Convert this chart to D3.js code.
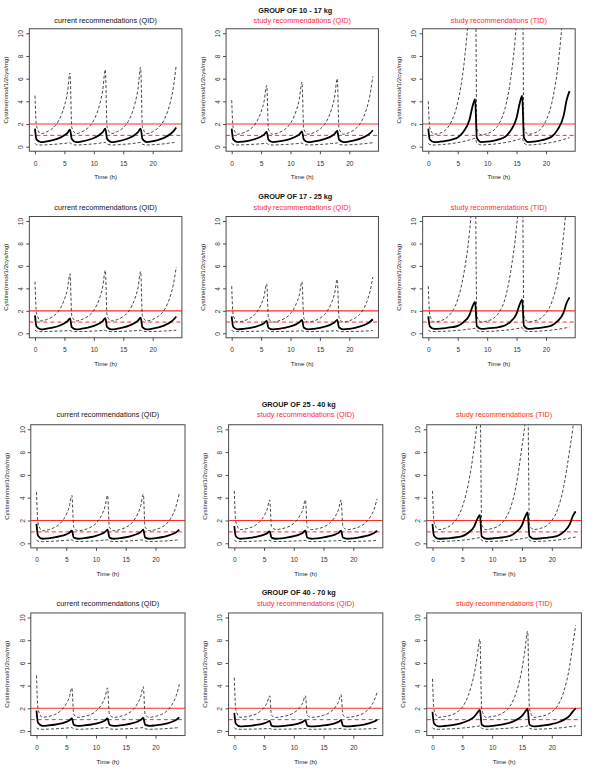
<!DOCTYPE html>
<html><head><meta charset="utf-8">
<script src="https://cdn.jsdelivr.net/npm/d3@7"></script>
<style>
html,body{margin:0;padding:0;background:#fff;}
svg{display:block;font-family:'Liberation Sans',Arial,sans-serif;}
</style></head>
<body>
<svg id="chart" width="600" height="778"></svg>
<script>
// ---------------- DATA ----------------
const groups = ["GROUP OF 10 - 17 kg", "GROUP OF 17 - 25 kg", "GROUP OF 25 - 40 kg", "GROUP OF 40 - 70 kg"];
const regimens = ["current recommendations (QID)", "study recommendations (QID)", "study recommendations (TID)"];
const regimenColors = ["#111", "#ff2a2a", "#ff2a2a"];
const xTicks = [0, 5, 10, 15, 20];
const yTicks = [0, 2, 4, 6, 8, 10];
const xLabel = "Time (h)";
const yLabel = "Cystine(nmol/1/2cys/mg)";
const thresholdSolid = 2;
const thresholdDashed = 1;

const timeQID = [0,0.25,1,2,3,4,5,5.5,5.95, 6.25,7,8,9,10,11,11.5,11.95, 12.25,13,14,15,16,17,17.5,17.95, 18.25,19,20,21,22,23,23.5,24];
const timeTID = [0,0.25,1,2,3,4,5,6,7,7.5,7.95, 8.25,9,10,11,12,13,14,15,15.5,15.95, 16.25,17,18,19,20,21,22,23,23.5,24];

// group 10-17 kg
const med_r1c1 = [1.6,0.64,0.40,0.47,0.58,0.74,1.01,1.20,1.5, 0.68,0.40,0.47,0.59,0.77,1.06,1.28,1.6, 0.70,0.40,0.47,0.59,0.77,1.06,1.28,1.6, 0.70,0.40,0.48,0.61,0.80,1.12,1.35,1.7];
const up_r1c1  = [4.5,1.82,1.15,1.31,1.63,2.27,3.61,4.73,6.5, 1.69,1.15,1.32,1.66,2.34,3.75,4.94,6.8, 1.72,1.15,1.33,1.68,2.38,3.84,5.07,7.0, 1.74,1.15,1.33,1.69,2.42,3.93,5.20,7.2];
const lo_r1c1  = [0.3,0.18,0.15,0.17,0.2,0.24,0.29,0.32,0.35, 0.21,0.15,0.17,0.21,0.25,0.31,0.35,0.38, 0.22,0.15,0.17,0.21,0.25,0.31,0.35,0.38, 0.22,0.15,0.18,0.21,0.26,0.33,0.36,0.4];

const med_r1c2 = [1.6,0.64,0.40,0.45,0.54,0.68,0.90,1.06,1.3, 0.63,0.40,0.46,0.55,0.69,0.92,1.09,1.35, 0.64,0.40,0.46,0.56,0.71,0.95,1.13,1.4, 0.65,0.40,0.46,0.57,0.73,0.98,1.17,1.45];
const up_r1c2  = [4.1,1.7,1.1,1.23,1.49,2.0,3.08,3.98,5.4, 1.53,1.1,1.24,1.51,2.07,3.22,4.18,5.7, 1.56,1.1,1.25,1.54,2.13,3.35,4.38,6.0, 1.59,1.1,1.25,1.56,2.17,3.45,4.52,6.2];
const lo_r1c2  = [0.3,0.18,0.15,0.17,0.19,0.22,0.26,0.28,0.30, 0.2,0.15,0.17,0.19,0.23,0.27,0.29,0.32, 0.2,0.15,0.17,0.2,0.23,0.28,0.3,0.33, 0.2,0.15,0.17,0.2,0.24,0.29,0.32,0.35];

const med_r1c3 = [1.6,0.64,0.4,0.44,0.51,0.63,0.82,1.35,2.38,3.52,4.2, 0.78,0.4,0.44,0.52,0.65,0.85,1.43,2.53,3.76,4.5, 0.81,0.4,0.45,0.54,0.67,0.9,1.53,2.74,4.09,4.9];
const up_r1c3  = [4.0,1.68,1.1,1.2,1.5,2.3,3.9,7.0,12.5,16,20, 1.6,1.05,1.15,1.4,2.0,3.3,6.0,11,15,19, 1.6,1.1,1.2,1.5,2.3,3.9,7.0,12.5,16,20];
const lo_r1c3  = [0.3,0.18,0.15,0.18,0.22,0.28,0.36,0.46,0.6,0.67,0.75, 0.33,0.15,0.18,0.22,0.28,0.36,0.46,0.6,0.67,0.75, 0.33,0.15,0.18,0.23,0.29,0.38,0.49,0.64,0.72,0.8];

// group 17-25 kg
const med_r2c1 = [1.6,0.6,0.35,0.41,0.51,0.65,0.89,1.07,1.33, 0.55,0.35,0.41,0.51,0.66,0.9,1.08,1.35, 0.55,0.35,0.41,0.52,0.68,0.93,1.12,1.4, 0.56,0.35,0.42,0.53,0.71,0.98,1.19,1.5];
const up_r2c1  = [4.6,1.8,1.1,1.23,1.48,1.98,3.03,3.91,5.3, 1.52,1.1,1.24,1.51,2.05,3.17,4.12,5.6, 1.55,1.1,1.23,1.5,2.02,3.12,4.05,5.5, 1.54,1.1,1.24,1.53,2.11,3.31,4.32,5.9];
const lo_r2c1  = [0.3,0.18,0.15,0.16,0.18,0.2,0.22,0.24,0.25, 0.18,0.15,0.16,0.18,0.2,0.23,0.25,0.27, 0.19,0.15,0.16,0.18,0.2,0.23,0.25,0.27, 0.19,0.15,0.16,0.18,0.21,0.24,0.26,0.28];

const med_r2c2 = [1.5,0.58,0.35,0.4,0.47,0.58,0.76,0.9,1.1, 0.5,0.35,0.4,0.49,0.61,0.82,0.97,1.2, 0.52,0.35,0.4,0.49,0.61,0.82,0.97,1.2, 0.52,0.35,0.4,0.49,0.63,0.85,1.01,1.25];
const up_r2c2  = [4.2,1.64,1.0,1.1,1.31,1.71,2.56,3.28,4.4, 1.34,1.0,1.11,1.32,1.76,2.66,3.41,4.6, 1.36,1.0,1.11,1.34,1.8,2.75,3.55,4.8, 1.38,1.0,1.12,1.36,1.84,2.84,3.68,5.0];
const lo_r2c2  = [0.3,0.18,0.15,0.16,0.17,0.18,0.2,0.21,0.22, 0.17,0.15,0.16,0.17,0.18,0.2,0.21,0.22, 0.17,0.15,0.16,0.17,0.19,0.21,0.22,0.23, 0.17,0.15,0.16,0.17,0.19,0.21,0.23,0.24];

const med_r2c3 = [1.5,0.62,0.4,0.42,0.47,0.54,0.66,1.0,1.65,2.37,2.8, 0.64,0.4,0.43,0.48,0.56,0.69,1.05,1.75,2.53,3.0, 0.66,0.4,0.43,0.48,0.57,0.71,1.1,1.86,2.7,3.2];
const up_r2c3  = [4.2,1.64,1.0,1.1,1.35,1.9,3.0,5.2,9.0,12,15, 1.5,1.0,1.1,1.3,1.85,3.0,5.5,9.5,12.5,15.5, 1.5,1.0,1.1,1.3,1.8,2.8,4.8,8.8,11.5,14];
const lo_r2c3  = [0.3,0.18,0.15,0.17,0.19,0.22,0.26,0.31,0.38,0.41,0.45, 0.24,0.15,0.17,0.19,0.23,0.27,0.33,0.41,0.45,0.5, 0.26,0.15,0.17,0.2,0.24,0.29,0.36,0.45,0.5,0.55];

// group 25-40 kg
const med_r3c1 = [1.7,0.66,0.4,0.44,0.51,0.62,0.79,0.91,1.1, 0.51,0.4,0.45,0.53,0.65,0.84,0.98,1.2, 0.52,0.4,0.45,0.53,0.65,0.84,0.98,1.2, 0.52,0.4,0.45,0.53,0.65,0.84,0.98,1.2];
const up_r3c1  = [4.5,1.78,1.1,1.19,1.38,1.75,2.53,3.18,4.2, 1.41,1.1,1.19,1.38,1.75,2.53,3.18,4.2, 1.41,1.1,1.2,1.39,1.77,2.57,3.24,4.3, 1.42,1.1,1.2,1.4,1.79,2.62,3.31,4.4];
const lo_r3c1  = [0.3,0.18,0.15,0.17,0.19,0.22,0.26,0.28,0.3, 0.2,0.15,0.17,0.19,0.22,0.26,0.28,0.3, 0.2,0.15,0.17,0.19,0.22,0.26,0.28,0.3, 0.2,0.15,0.17,0.19,0.22,0.26,0.28,0.3];

const med_r3c2 = [1.5,0.62,0.4,0.44,0.5,0.6,0.76,0.87,1.05, 0.5,0.4,0.44,0.51,0.62,0.79,0.91,1.1, 0.51,0.4,0.44,0.51,0.62,0.79,0.91,1.1, 0.51,0.4,0.44,0.51,0.62,0.79,0.91,1.1];
const up_r3c2  = [4.6,1.88,1.2,1.28,1.43,1.75,2.4,2.94,3.8, 1.46,1.2,1.28,1.43,1.75,2.4,2.94,3.8, 1.46,1.2,1.28,1.43,1.75,2.4,2.94,3.8, 1.46,1.2,1.28,1.44,1.77,2.44,3.01,3.9];
const lo_r3c2  = [0.3,0.18,0.15,0.16,0.18,0.2,0.22,0.24,0.25, 0.18,0.15,0.16,0.18,0.2,0.22,0.24,0.25, 0.18,0.15,0.16,0.18,0.2,0.22,0.24,0.25, 0.18,0.15,0.16,0.18,0.2,0.22,0.24,0.25];

const med_r3c3 = [1.7,0.66,0.4,0.42,0.46,0.53,0.63,0.93,1.49,2.12,2.5, 0.61,0.4,0.42,0.47,0.54,0.65,0.98,1.6,2.29,2.7, 0.63,0.4,0.42,0.47,0.54,0.66,1.0,1.65,2.37,2.8];
const up_r3c3  = [4.6,1.88,1.2,1.3,1.55,2.1,3.2,5.2,8.5,10.8,13.5, 1.6,1.2,1.3,1.5,2.0,3.0,5.0,8.5,10.5,13.5, 1.6,1.2,1.3,1.5,2.0,3.0,5.0,8.2,10.0,12.5];
const lo_r3c3  = [0.3,0.18,0.15,0.17,0.19,0.23,0.27,0.33,0.41,0.45,0.5, 0.26,0.15,0.17,0.19,0.23,0.27,0.33,0.41,0.45,0.5, 0.26,0.15,0.17,0.2,0.24,0.29,0.36,0.45,0.5,0.55];

// group 40-70 kg
const med_r4c1 = [1.8,0.72,0.45,0.49,0.55,0.65,0.81,0.92,1.1, 0.55,0.45,0.49,0.55,0.65,0.81,0.92,1.1, 0.55,0.45,0.49,0.56,0.67,0.84,0.96,1.15, 0.56,0.45,0.5,0.57,0.68,0.86,1.0,1.2];
const up_r4c1  = [4.9,1.94,1.2,1.28,1.43,1.75,2.4,2.94,3.8, 1.46,1.2,1.28,1.43,1.75,2.4,2.94,3.8, 1.46,1.2,1.28,1.44,1.77,2.44,3.01,3.9, 1.47,1.2,1.29,1.46,1.81,2.53,3.14,4.1];
const lo_r4c1  = [0.3,0.18,0.15,0.17,0.19,0.22,0.26,0.28,0.3, 0.2,0.15,0.17,0.19,0.22,0.26,0.28,0.3, 0.2,0.15,0.17,0.19,0.22,0.26,0.28,0.3, 0.2,0.15,0.17,0.19,0.22,0.26,0.28,0.3];

const med_r4c2 = [1.6,0.64,0.4,0.43,0.48,0.56,0.68,0.77,0.9, 0.48,0.4,0.43,0.49,0.57,0.7,0.8,0.95, 0.48,0.4,0.43,0.49,0.57,0.7,0.8,0.95, 0.48,0.4,0.44,0.5,0.59,0.73,0.84,1.0];
const up_r4c2  = [4.7,1.9,1.2,1.26,1.37,1.6,2.07,2.47,3.1, 1.39,1.2,1.26,1.37,1.6,2.07,2.47,3.1, 1.39,1.2,1.26,1.38,1.62,2.12,2.54,3.2, 1.4,1.2,1.27,1.4,1.66,2.21,2.67,3.4];
const lo_r4c2  = [0.3,0.18,0.15,0.16,0.17,0.18,0.2,0.21,0.22, 0.17,0.15,0.16,0.17,0.18,0.2,0.21,0.22, 0.17,0.15,0.16,0.17,0.18,0.2,0.21,0.22, 0.17,0.15,0.16,0.17,0.18,0.2,0.21,0.22];

const med_r4c3 = [1.7,0.66,0.4,0.44,0.5,0.59,0.72,0.92,1.27,1.59,1.85, 0.55,0.4,0.45,0.51,0.6,0.74,0.96,1.33,1.67,1.95, 0.56,0.4,0.45,0.51,0.61,0.75,0.98,1.36,1.71,2.0];
const up_r4c3  = [4.6,1.88,1.2,1.27,1.37,1.61,2.1,3.13,5.06,6.58,8.1, 1.89,1.2,1.28,1.39,1.66,2.19,3.33,5.46,7.13,8.8, 1.96,1.2,1.28,1.4,1.69,2.25,3.47,5.74,7.52,9.3];
const lo_r4c3  = [0.3,0.18,0.15,0.17,0.19,0.22,0.26,0.31,0.38,0.41,0.45, 0.24,0.15,0.17,0.19,0.22,0.26,0.31,0.38,0.41,0.45, 0.24,0.15,0.17,0.19,0.22,0.26,0.31,0.38,0.41,0.45];

const panels = [
  [[timeQID, med_r1c1, up_r1c1, lo_r1c1], [timeQID, med_r1c2, up_r1c2, lo_r1c2], [timeTID, med_r1c3, up_r1c3, lo_r1c3]],
  [[timeQID, med_r2c1, up_r2c1, lo_r2c1], [timeQID, med_r2c2, up_r2c2, lo_r2c2], [timeTID, med_r2c3, up_r2c3, lo_r2c3]],
  [[timeQID, med_r3c1, up_r3c1, lo_r3c1], [timeQID, med_r3c2, up_r3c2, lo_r3c2], [timeTID, med_r3c3, up_r3c3, lo_r3c3]],
  [[timeQID, med_r4c1, up_r4c1, lo_r4c1], [timeQID, med_r4c2, up_r4c2, lo_r4c2], [timeTID, med_r4c3, up_r4c3, lo_r4c3]]
];

// ---------------- LAYOUT ----------------
const rowY10 = [33.3, 221, 429.3, 617.5];
const rowY0  = [146.7, 333.3, 543.3, 731];
const rowSubY = [20, 207.7, 414.3, 603.3];
const rowGroupY = [10, 196, 404.3, 592.3];
const colX0 = [[35, 231.7, 428.3], [35, 231.7, 428.3], [36.5, 234.3, 432.5], [36.5, 234.3, 432.5]];
const colX20 = [[152.7, 349.3, 546], [152.7, 349.3, 546], [155.5, 353.3, 551.8], [155.5, 353.3, 551.8]];

const svg = d3.select("#chart");
const defs = svg.append("defs");
const boxColor = "#4a4a4a";
const red = "#ff2a2a";

panels.forEach((row, r) => {
  row.forEach((p, c) => {
    const x = d3.scaleLinear().domain([0, 20]).range([colX0[r][c], colX20[r][c]]);
    const y = d3.scaleLinear().domain([0, 10]).range([rowY0[r], rowY10[r]]);
    const bx0 = x(-0.96), bx1 = x(24.96), by0 = y(10.4), by1 = y(-0.4);
    const g = svg.append("g");
    const clipId = `clip-${r}-${c}`;
    defs.append("clipPath").attr("id", clipId).append("rect")
      .attr("x", bx0).attr("y", by0).attr("width", bx1 - bx0).attr("height", by1 - by0);

    const plot = g.append("g").attr("clip-path", `url(#${clipId})`);
    // thresholds
    plot.append("line").attr("x1", bx0).attr("x2", bx1)
      .attr("y1", y(thresholdSolid)).attr("y2", y(thresholdSolid))
      .attr("stroke", red).attr("stroke-width", 1.1);
    plot.append("line").attr("x1", bx0).attr("x2", bx1)
      .attr("y1", y(thresholdDashed)).attr("y2", y(thresholdDashed))
      .attr("stroke", red).attr("stroke-width", 1).attr("stroke-dasharray", "4,3");

    const [t, med, up, lo] = p;
    const line = d3.line().x(d => x(d[0])).y(d => y(d[1])).curve(d3.curveMonotoneX);
    [up, lo].forEach(vals => {
      plot.append("path").datum(t.map((tt, i) => [tt, vals[i]]))
        .attr("d", line).attr("fill", "none").attr("stroke", "#333")
        .attr("stroke-width", 0.9).attr("stroke-dasharray", "3,2");
    });
    plot.append("path").datum(t.map((tt, i) => [tt, med[i]]))
      .attr("d", line).attr("fill", "none").attr("stroke", "#000")
      .attr("stroke-width", 1.8).attr("stroke-linejoin", "round");

    // box
    g.append("rect").attr("x", bx0).attr("y", by0).attr("width", bx1 - bx0).attr("height", by1 - by0)
      .attr("fill", "none").attr("stroke", boxColor).attr("stroke-width", 1);

    // x axis
    const xa = g.append("g").attr("transform", `translate(0,${by1})`)
      .call(d3.axisBottom(x).tickValues(xTicks).tickSize(3).tickFormat(d3.format("d")));
    xa.select(".domain").remove();
    xa.selectAll("line").attr("stroke", boxColor);
    xa.selectAll("text").attr("y", 12).attr("dy", "0.35em")
      .attr("font-size", 6.6).attr("fill", "#333").attr("font-family", "'Liberation Sans',Arial,sans-serif");

    // y axis
    const ya = g.append("g").attr("transform", `translate(${bx0},0)`)
      .call(d3.axisLeft(y).tickValues(yTicks).tickSize(3).tickFormat(d3.format("d")));
    ya.select(".domain").remove();
    ya.selectAll("line").attr("stroke", boxColor);
    ya.selectAll("text").attr("x", null).attr("dy", "0.35em").attr("text-anchor", "middle")
      .attr("transform", "translate(-8.6,0) rotate(-90)")
      .attr("font-size", 6.6).attr("fill", "#333").attr("font-family", "'Liberation Sans',Arial,sans-serif");

    // axis titles
    g.append("text").attr("x", (bx0 + bx1) / 2).attr("y", by1 + 26).attr("dy", "0.35em")
      .attr("text-anchor", "middle").attr("font-size", 6.2).attr("fill", "#222").text(xLabel);
    g.append("text").attr("transform", `translate(${bx0 - 23.5},${(by0 + by1) / 2}) rotate(-90)`)
      .attr("dy", "0.35em").attr("text-anchor", "middle").attr("font-size", 6.1).attr("fill", "#222").text(yLabel);

    // panel title
    g.append("text").attr("x", (bx0 + bx1) / 2).attr("y", rowSubY[r]).attr("dy", "0.35em")
      .attr("text-anchor", "middle").attr("font-size", 7.3).attr("fill", regimenColors[c]).text(regimens[c]);

    if (c === 1) {
      g.append("text").attr("x", (bx0 + bx1) / 2 - 7).attr("y", rowGroupY[r]).attr("dy", "0.35em")
        .attr("text-anchor", "middle").attr("font-size", 7.3).attr("font-weight", "bold")
        .attr("fill", "#111").text(groups[r]);
    }
  });
});
</script>
</body></html>
